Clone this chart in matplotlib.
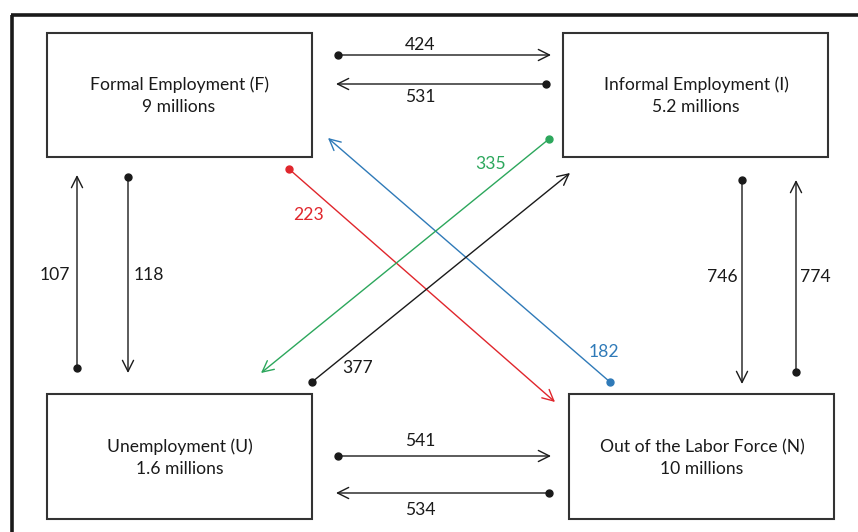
import matplotlib
matplotlib.use("Agg")
import matplotlib.pyplot as plt
from matplotlib.patches import Rectangle, FancyArrowPatch

plt.rcParams['font.family'] = ['Lato', 'DejaVu Sans']

# ---- data ----
node_keys = ["F", "I", "U", "N"]
node_names = ["Formal Employment (F)", "Informal Employment (I)",
              "Unemployment (U)", "Out of the Labor Force (N)"]
node_sizes = ["9 millions", "5.2 millions", "1.6 millions", "10 millions"]

flow_from = ["F", "I", "F", "U", "I", "N", "U", "N", "F", "N", "I", "U"]
flow_to   = ["I", "F", "U", "F", "N", "I", "N", "U", "N", "F", "U", "I"]
flow_vals = [424, 531, 118, 107, 746, 774, 541, 534, 223, 182, 335, 377]

# ---- layout (pixel coordinates) ----
W, H = 858, 532
box_pos = {"F": (47, 33, 265, 124), "I": (563, 33, 265, 124),
           "U": (47, 394, 265, 125), "N": (569, 394, 265, 125)}
text_pos = {"F": (179, 85), "I": (696, 85), "U": (180, 447), "N": (702, 447)}
line_gap = 22

# start (dot), end (arrow head), label position, color
flow_geom = [
    ((338, 55), (551, 55), (420, 45), "#1a1a1a"),
    ((546, 84), (336, 84), (420, 97), "#1a1a1a"),
    ((128, 177), (128, 373), (149, 275), "#1a1a1a"),
    ((77, 368), (77, 175), (55, 275), "#1a1a1a"),
    ((742, 180), (742, 384), (722, 277), "#1a1a1a"),
    ((796, 372), (796, 180), (815, 277), "#1a1a1a"),
    ((338, 456), (551, 456), (420, 441), "#1a1a1a"),
    ((549, 493), (336, 493), (420, 510), "#1a1a1a"),
    ((289, 169), (555, 402), (309, 215), "#e0262c"),
    ((610, 382), (328, 138), (604, 352), "#2f7ab8"),
    ((549, 139), (261, 373), (491, 164), "#2ca75c"),
    ((312, 382), (570, 173), (358, 368), "#1a1a1a"),
]

fig = plt.figure(figsize=(W / 100, H / 100), dpi=100)
ax = fig.add_axes([0, 0, 1, 1])
ax.set_xlim(0, W)
ax.set_ylim(H, 0)
ax.axis("off")

# outer frame (partially cropped)
ax.plot([12, 12], [H + 5, 15], color="#1a1a1a", lw=2.6, solid_capstyle="butt")
ax.plot([10.7, W + 5], [15, 15], color="#1a1a1a", lw=2.6, solid_capstyle="butt")

for k, name, size in zip(node_keys, node_names, node_sizes):
    x, y, w, h = box_pos[k]
    ax.add_patch(Rectangle((x, y), w, h, fill=False, ec="#333333", lw=1.5))
    tx, ty = text_pos[k]
    ax.text(tx, ty, name, ha="center", va="center",
            fontsize=12.6, color="#1a1a1a")
    ax.text(tx, ty + line_gap, size, ha="center", va="center",
            fontsize=12.6, color="#1a1a1a")

for (s, e, lp, c), v in zip(flow_geom, flow_vals):
    arr = FancyArrowPatch(s, e, arrowstyle="->,head_length=8,head_width=4",
                          color=c, lw=1.0, mutation_scale=1,
                          shrinkA=0, shrinkB=0)
    ax.add_patch(arr)
    ax.plot(*s, "o", color=c, ms=5)
    ax.text(lp[0], lp[1], str(v), ha="center", va="center",
            fontsize=12.6, color=c)

fig.savefig("out.png", dpi=100)
